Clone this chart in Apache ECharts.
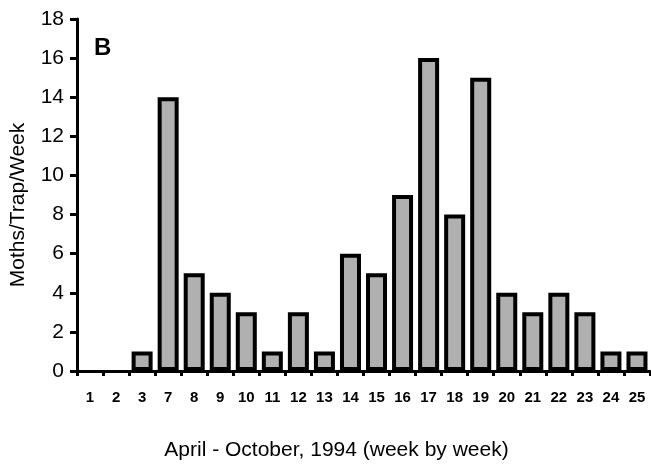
<!DOCTYPE html>
<html>
<head>
<meta charset="utf-8">
<script src="https://cdn.jsdelivr.net/npm/echarts@6/dist/echarts.min.js"></script>
<style>
html,body{margin:0;padding:0;background:#fff;}
#chart{width:651px;height:466px;}
</style>
</head>
<body>
<div id="chart"></div>
<script>
const weeks = ['1','2','3','7','8','9','10','11','12','13','14','15','16','17','18','19','20','21','22','23','24','25'];
const mothsPerTrap = [0,0,1,14,5,4,3,1,3,1,6,5,9,16,8,15,4,3,4,3,1,1];
const yTicks = [0,2,4,6,8,10,12,14,16,18];
const panelLabel = 'B';
const xTitle = 'April - October, 1994 (week by week)';
const yTitle = 'Moths/Trap/Week';

const chart = echarts.init(document.getElementById('chart'), null, {renderer:'canvas'});
const font = 'Liberation Sans, Arial, Helvetica, sans-serif';
chart.setOption({
  backgroundColor:'#ffffff',
  animation:false,
  grid:{left:73, right:1, top:19, bottom:92},
  xAxis:{
    type:'category',
    data:weeks,
    boundaryGap:true,
    axisLine:{lineStyle:{color:'#000', width:3}},
    axisTick:{show:true, length:5, lineStyle:{color:'#000', width:3}},
    axisLabel:{color:'#000', fontFamily:font, fontWeight:'bold', fontSize:15, margin:19, interval:0},
    name:xTitle,
    nameLocation:'middle',
    nameGap:69,
    nameTextStyle:{color:'#000', fontFamily:font, fontSize:21, padding:[0,54,0,0]}
  },
  yAxis:{
    type:'value',
    min:yTicks[0], max:yTicks[yTicks.length-1], interval:2,
    splitLine:{show:false},
    axisLine:{show:true, lineStyle:{color:'#000', width:3}},
    axisTick:{show:true, length:7, lineStyle:{color:'#000', width:3}},
    axisLabel:{color:'#000', fontFamily:font, fontSize:21, margin:13},
    name:yTitle,
    nameLocation:'middle',
    nameGap:48,
    nameTextStyle:{color:'#000', fontFamily:font, fontSize:21, padding:[0,20,0,0]}
  },
  graphic:[{
    type:'text', left:94, top:36,
    style:{text:panelLabel, font:'bold 24px ' + font, fill:'#000'}
  }],
  series:[{
    type:'bar',
    barWidth:21,
    data:mothsPerTrap.map(v => ({value:v, itemStyle: v === 0 ? {borderWidth:0} : {}})),
    itemStyle:{color:'#b0b0b0', borderColor:'#000', borderWidth:4}
  }]
});
</script>
</body>
</html>
